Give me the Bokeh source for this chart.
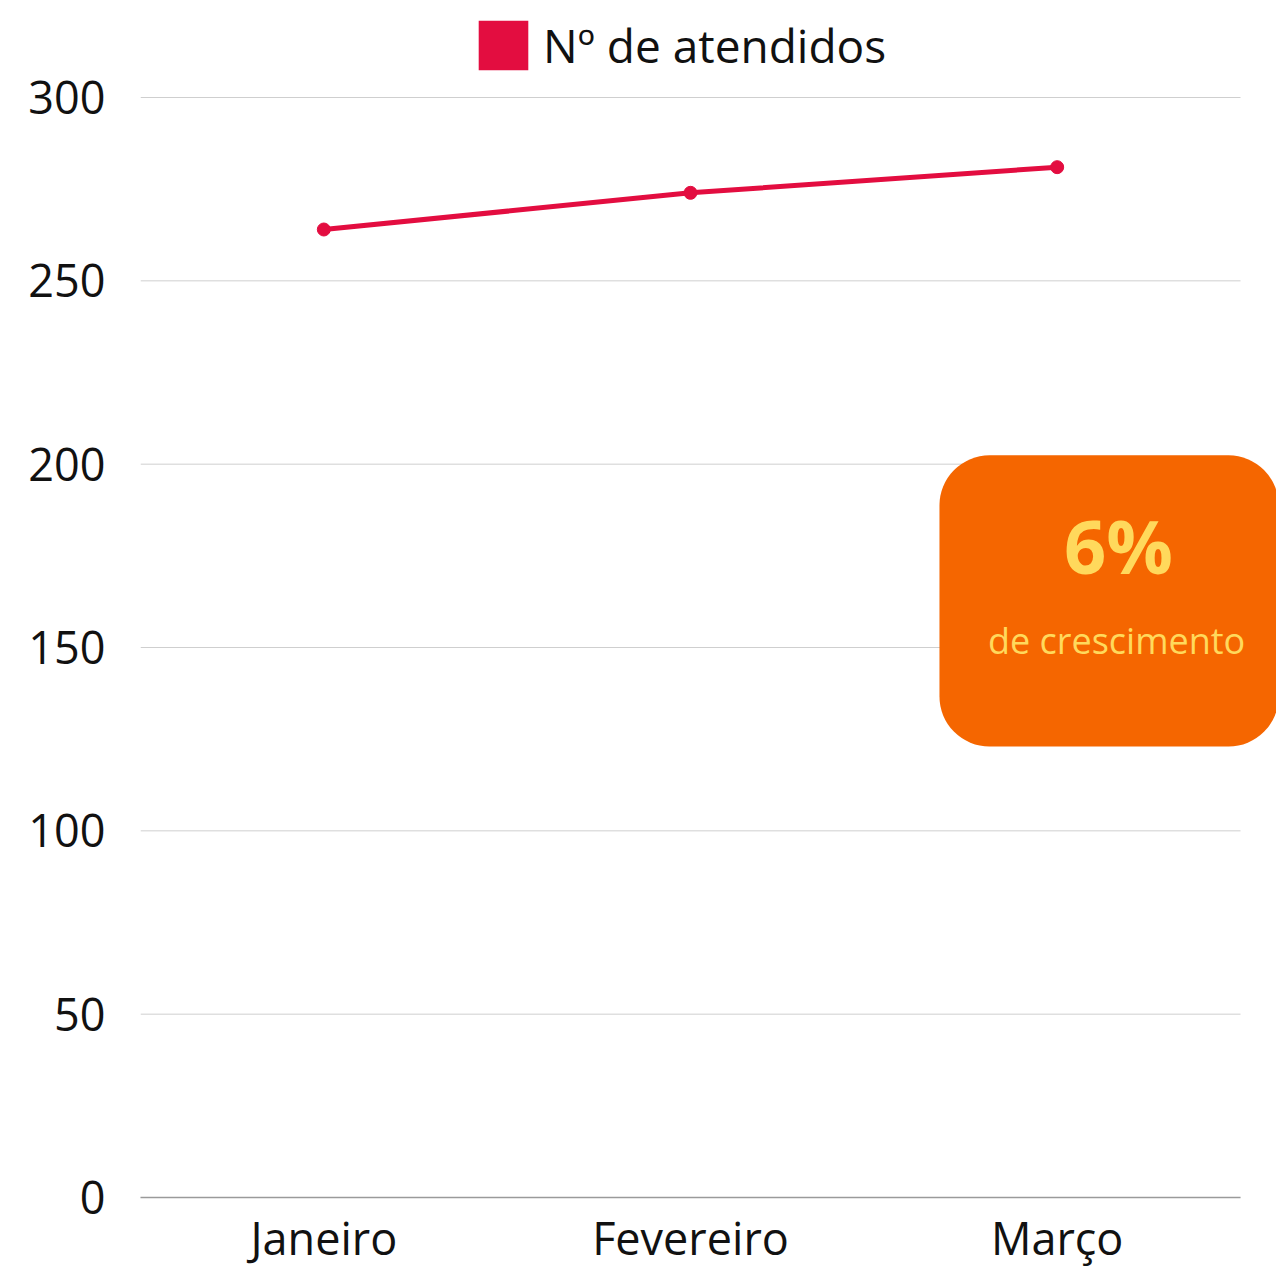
from bokeh.plotting import figure
from bokeh.models import (Range1d, FixedTicker, BoxAnnotation, Label, Legend, LegendItem,
                          ColumnDataSource)
from bokeh.embed import file_html
from bokeh.resources import INLINE

# ---- data ----
months = ["Janeiro", "Fevereiro", "Março"]
atendidos = [264, 274, 281]
series_name = "Nº de atendidos"
y_ticks = [0, 50, 100, 150, 200, 250, 300]
growth_label = "6%"
growth_caption = "de crescimento"

FONT = "Open Sans"
RED = "#E30D40"
ORANGE = "#F56600"
YELLOW = "#FFD95C"

n = len(months)
xs = [i + 0.5 for i in range(n)]

# frame extends to the right/top edges so that box and legend are not clipped
X_END = n * 1136 / 1100
Y_END = 300 * 1197 / 1100

p = figure(frame_width=1136, frame_height=1197,
           min_border_left=140, min_border_right=0, min_border_top=0, min_border_bottom=69,
           x_range=Range1d(0, X_END), y_range=Range1d(0, Y_END),
           output_backend="svg", toolbar_location=None)
p.outline_line_color = None
p.background_fill_color = "white"
p.border_fill_color = "white"

# axes
p.xaxis.ticker = FixedTicker(ticks=xs)
p.xaxis.major_label_overrides = {x: m for x, m in zip(xs, months)}
p.xaxis.bounds = (0, n)
p.yaxis.ticker = FixedTicker(ticks=y_ticks)
for ax in (p.xaxis, p.yaxis):
    ax.major_tick_line_color = None
    ax.minor_tick_line_color = None
    ax.major_tick_out = 0
    ax.major_tick_in = 0
    ax.minor_tick_out = 0
    ax.major_label_text_font = FONT
    ax.major_label_text_font_size = "45px"
    ax.major_label_text_color = "#111111"
p.yaxis.axis_line_color = None
p.yaxis.major_label_standoff = 35
p.xaxis.axis_line_color = "#9A9A9A"
p.xaxis.axis_line_width = 1.5
p.xaxis.major_label_standoff = 9

p.xgrid.grid_line_color = None
p.ygrid.grid_line_color = None
# horizontal grid lines limited to the category span
p.segment(x0=[0] * len(y_ticks), x1=[n] * len(y_ticks), y0=y_ticks, y1=y_ticks,
          line_color="#CFCFCF", line_width=1)

# series
src = ColumnDataSource(dict(x=xs, y=atendidos))
p.line("x", "y", source=src, line_width=5, color=RED)
p.scatter("x", "y", source=src, size=13, color=RED)

# legend proxy (square swatch); NaN geometry so nothing is drawn in the plot
nan = float("nan")
proxy = p.quad(left=[nan], right=[nan], top=[nan], bottom=[nan],
               fill_color=RED, line_color=None)
legend = Legend(items=[LegendItem(label=series_name, renderers=[proxy], index=0)],
                location=(332, 1121), orientation="horizontal",
                glyph_width=62, glyph_height=62, label_standoff=9,
                padding=0, margin=0, border_line_color=None, background_fill_alpha=0,
                label_text_font=FONT, label_text_font_size="46px", label_text_color="#111111")
p.add_layout(legend, "center")

# highlight box
box = BoxAnnotation(left=2.179, right=3.104, bottom=123, top=202.4,
                    fill_color=ORANGE, fill_alpha=1, line_color=None, border_radius=50)
p.add_layout(box)
p.add_layout(Label(x=2.667, y=177.8, text=growth_label, text_align="center",
                   text_baseline="middle", text_font=FONT, text_font_style="bold",
                   text_font_size="74px", text_color=YELLOW))
p.add_layout(Label(x=2.662, y=151.9, text=growth_caption, text_align="center",
                   text_baseline="middle", text_font=FONT,
                   text_font_size="36px", text_color=YELLOW))

open("out.html", "w").write(file_html(p, INLINE))
